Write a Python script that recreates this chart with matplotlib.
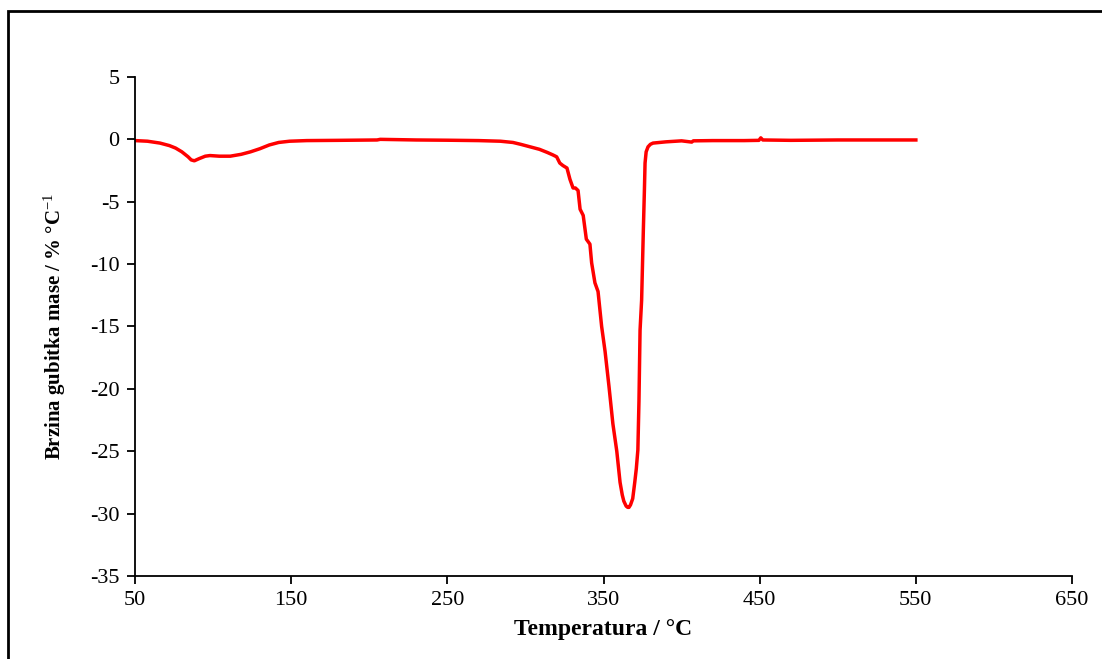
import matplotlib.pyplot as plt
from matplotlib.patches import Rectangle

# DTG curve (rows of 10 points, x and y aligned)
temp = [50, 58, 66, 72, 76, 80, 84, 86, 88, 91,
        95, 98, 104, 111, 118, 124, 130, 136, 142, 149,
        160, 180, 205, 207, 230, 250, 270, 284, 292, 297,
        303, 309, 314, 317.6, 320, 322, 324, 326.6, 328.5, 330.5,
        332, 333.7, 335, 337, 339, 341.3, 342.4, 344.5, 346.5, 348.8,
        351, 353.5, 356, 358.5, 360.6, 362, 363, 364.5, 365.5, 366.3,
        367.3, 368.7, 370, 371, 372, 372.7, 373.4, 374.4, 375.5, 376.2,
        376.6, 377.3, 378.5, 380, 381.7, 390, 400, 406.5, 407.5, 420,
        440, 449.5, 450.7, 452, 470, 500, 520, 550]
rate = [-0.1, -0.15, -0.3, -0.5, -0.7, -1.0, -1.4, -1.65, -1.72, -1.55,
        -1.35, -1.3, -1.35, -1.35, -1.2, -1.0, -0.75, -0.45, -0.25, -0.15,
        -0.1, -0.08, -0.05, 0.0, -0.05, -0.07, -0.1, -0.15, -0.25, -0.4,
        -0.6, -0.8, -1.05, -1.25, -1.4, -1.9, -2.1, -2.3, -3.2, -3.9,
        -3.9, -4.1, -5.6, -6.1, -8.0, -8.4, -9.9, -11.5, -12.2, -15.0,
        -17.0, -19.8, -22.8, -25.0, -27.5, -28.5, -29.0, -29.4, -29.5, -29.5,
        -29.3, -28.8, -27.5, -26.4, -24.9, -21.0, -15.3, -12.9, -7.3, -4.0,
        -1.9, -1.0, -0.6, -0.4, -0.3, -0.2, -0.12, -0.22, -0.12, -0.1,
        -0.1, -0.08, 0.12, -0.05, -0.08, -0.05, -0.05, -0.05]

x_ticks = [50, 150, 250, 350, 450, 550, 650]
y_ticks = [5, 0, -5, -10, -15, -20, -25, -30, -35]

plt.rcParams['font.family'] = ['Liberation Serif', 'DejaVu Serif']
plt.rcParams['axes.unicode_minus'] = False
plt.rcParams['mathtext.fontset'] = 'custom'
plt.rcParams['mathtext.rm'] = 'Liberation Serif'
plt.rcParams['mathtext.default'] = 'rm'

fig = plt.figure(figsize=(11.02, 6.59), dpi=100)
ax = fig.add_axes([0.1225, 0.126, 0.8503, 0.7572])

ax.plot(temp, rate, color='#ff0000', linewidth=2.5, solid_joinstyle='round')

ax.set_xlim(50, 650)
ax.set_ylim(-35, 5)
ax.set_xticks(x_ticks)
ax.set_yticks(y_ticks)
ax.tick_params(direction='out', length=6, width=1.3, labelsize=16, pad=5, colors='black')
for s in ['top', 'right']:
    ax.spines[s].set_visible(False)
for s in ['left', 'bottom']:
    ax.spines[s].set_linewidth(1.3)

ax.set_xlabel('Temperatura / °C', fontsize=17, fontweight='bold', labelpad=6)
ax.set_ylabel('Brzina gubitka mase / % °C$^{-1}$', fontsize=15, fontweight='bold', labelpad=16)

# frame around the whole picture (cut at right and bottom like the reference)
fig.add_artist(Rectangle((8 / 1102, -0.1), 1.2, 0.1 + (659 - 11) / 659, transform=fig.transFigure,
                         fill=False, edgecolor='black', linewidth=2, clip_on=False))

fig.savefig('out.png', dpi=100)
